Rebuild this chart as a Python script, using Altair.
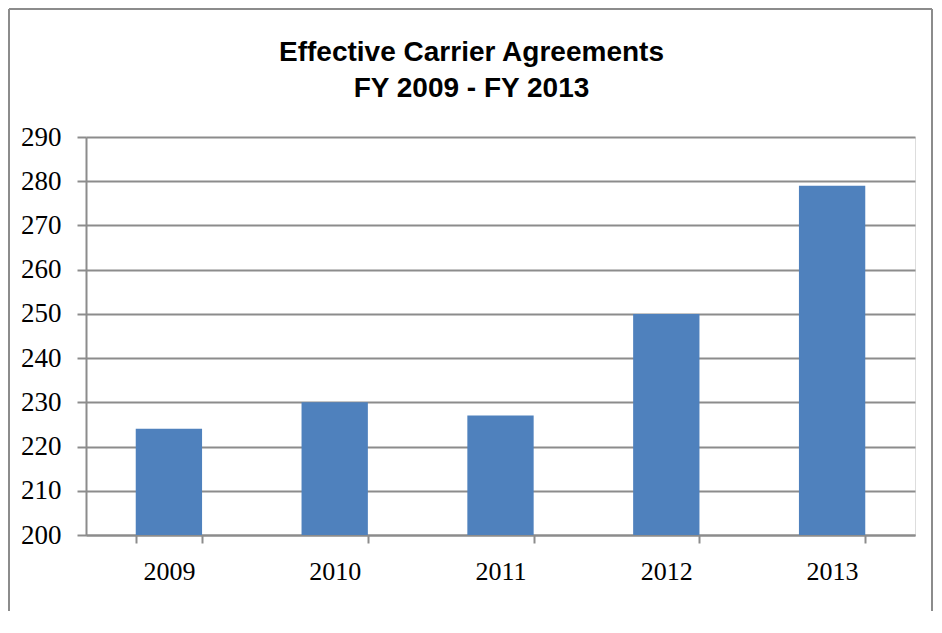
import altair as alt
import pandas as pd

years = ["2009", "2010", "2011", "2012", "2013"]
agreements = [224, 230, 227, 250, 279]
y_ticks = [200, 210, 220, 230, 240, 250, 260, 270, 280, 290]
title_lines = ["Effective Carrier Agreements", "FY 2009 - FY 2013"]

df = pd.DataFrame({"year": years, "value": agreements})

GRID = "#8c8c8c"
W, H = 829, 398
PAD = {"left": 78, "top": 129, "right": 19, "bottom": 76}

bars = alt.Chart(df).mark_bar(color="#4F81BD").encode(
    x=alt.X(
        "year:N",
        sort=years,
        scale=alt.Scale(paddingInner=0.6, paddingOuter=0.3),
        axis=alt.Axis(
            title=None,
            labelAngle=0,
            tickBand="extent",
            tickSize=8,
            labelPadding=15,
            labelFont="Liberation Serif",
            labelFontSize=26,
            labelColor="black",
            domainColor=GRID,
            domainWidth=2,
            tickColor=GRID,
            tickWidth=2,
            grid=False,
        ),
    ),
    y=alt.Y(
        "value:Q",
        scale=alt.Scale(domain=[200, 290], nice=False, zero=False),
        axis=alt.Axis(
            title=None,
            values=y_ticks,
            tickSize=9,
            labelPadding=16,
            labelFont="Liberation Serif",
            labelFontSize=27,
            labelColor="black",
            domainColor=GRID,
            domainWidth=2,
            tickColor=GRID,
            tickWidth=2,
            grid=True,
            gridColor=GRID,
            gridWidth=2,
        ),
    ),
    y2=alt.datum(200),
)

# outer frame (left, top, right sides)
RX = W + PAD["right"] - 2
left_edge = alt.Chart(df).mark_rule(color=GRID, strokeWidth=2).encode(
    x=alt.value(-77), y=alt.value(-128), y2=alt.value(H + PAD["bottom"])
)
top_edge = alt.Chart(df).mark_rule(color=GRID, strokeWidth=2).encode(
    x=alt.value(-77), x2=alt.value(RX), y=alt.value(-128)
)
right_edge = alt.Chart(df).mark_rule(color=GRID, strokeWidth=2).encode(
    x=alt.value(RX), y=alt.value(-128), y2=alt.value(H + PAD["bottom"])
)

chart = alt.layer(bars, left_edge, top_edge, right_edge).properties(
    width=W,
    height=H,
    padding=PAD,
    autosize=alt.AutoSizeParams(type="none"),
    title=alt.TitleParams(
        text=title_lines,
        anchor="middle",
        frame="group",
        font="Liberation Sans",
        fontSize=28,
        fontWeight="bold",
        color="black",
        lineHeight=36,
        baseline="alphabetic",
        offset=0,
        dx=-29,
        dy=117,
    ),
).configure_view(stroke=None).configure(background="white")

chart.save("out.html", embed_options={"renderer": "svg", "actions": False})
